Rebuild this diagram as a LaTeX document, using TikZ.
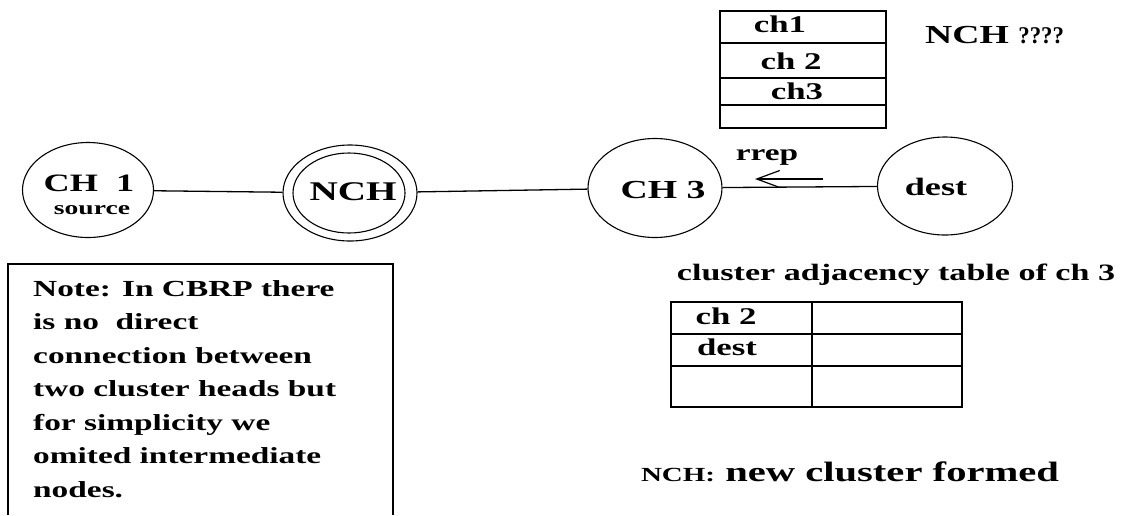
\documentclass[tikz,border=0pt]{standalone}
\usepackage{fontspec}
\setmainfont{Liberation Serif}
\newfontfamily\wide[FakeStretch=1.45]{Liberation Serif}
\newfontfamily\narrowq[FakeStretch=0.95]{Liberation Serif}
\usetikzlibrary{shapes.geometric,arrows.meta}
\newcommand{\fs}[1]{\fontsize{#1}{#1}\selectfont\wide\bfseries}
\tikzset{
  head/.style={draw, ellipse, line width=1.1pt, inner sep=0pt},
  link/.style={line width=1.3pt},
  grid/.style={line width=1.6pt},
  txt/.style={inner sep=0pt},
}
\begin{document}
\begin{tikzpicture}[x=1pt,y=-1pt]
\useasboundingbox (0,0) rectangle (1142,515);

% cluster heads
\node[head, minimum width=131pt, minimum height=95pt] (ch1) at (88,190) {};
\node[txt, font=\fs{25}] (ch1t) at (89,183) {CH\ \ 1};
\node[txt, font=\fs{19}] (src) at (92,210) {source};

\node[head, minimum width=134pt, minimum height=96pt] (nch) at (350,193) {};
\node[head, minimum width=112pt, minimum height=80pt] (nchin) at (349,193) {};
\node[txt, font=\fs{27}] (ncht) at (353,192) {NCH};

\node[head, minimum width=134pt, minimum height=99pt] (ch3) at (655,188) {};
\node[txt, font=\fs{26}] (ch3t) at (663,190) {CH 3};

\node[head, minimum width=135pt, minimum height=98pt] (dest) at (945,186) {};
\node[txt, font=\fs{25}] (destt) at (936,187) {dest};

\draw[link] (ch1) -- (nch);
\draw[link] (nch) -- (ch3);
\draw[link] (ch3) -- (dest);

% reply travelling back towards CH 3
\coordinate (rfrom) at (823,179);
\coordinate (rto) at (755,179);
\draw[line width=1.2pt, -{Straight Barb[length=23pt,width=17pt,line width=1.2pt]}] (rfrom) -- (rto);
\node[txt, font=\fs{23}] (rrep) at (767,157) {rrep};

% routing table of the new cluster head
\draw[grid] (720,11) rectangle (886,128);
\draw[grid] (720,43) -- (886,43);
\draw[grid] (720,78) -- (886,78);
\draw[grid] (720,105) -- (886,105);
\node[txt, font=\fs{24}] (r1) at (780,24) {ch1};
\node[txt, font=\fs{24}] (r2) at (791,61) {ch 2};
\node[txt, font=\fs{24}] (r3) at (797,91) {ch3};
\node[txt, font=\fs{26}, anchor=base west] (q) at (925,43)
  {NCH {\fontsize{24}{24}\selectfont\narrowq\bfseries ????}};

% note
\draw[line width=1.4pt] (8,515) -- (8,264) -- (393,264) -- (393,515);
\node[txt, anchor=north west, align=left,
      font=\fontsize{23}{33.5}\selectfont\wide\bfseries] (note) at (33,280)
  {Note: In CBRP there\\is no\ \ direct\\connection between\\two cluster heads but\\for simplicity we\\omited intermediate\\nodes.};

% adjacency table of CH 3
\node[txt, font=\fs{23.5}] (adjt) at (896,275) {cluster adjacency table of ch 3};
\draw[grid] (671,302) rectangle (962,407);
\draw[grid] (671,334) -- (962,334);
\draw[grid] (671,366) -- (962,366);
\draw[grid] (812,302) -- (812,407);
\node[txt, font=\fs{24}] (a1) at (726,316) {ch 2};
\node[txt, font=\fs{24}] (a2) at (727,347) {dest};

\node[txt, font=\fs{28}] (legend) at (850,472)
  {{\fs{20}NCH:} new cluster formed};
\end{tikzpicture}
\end{document}
